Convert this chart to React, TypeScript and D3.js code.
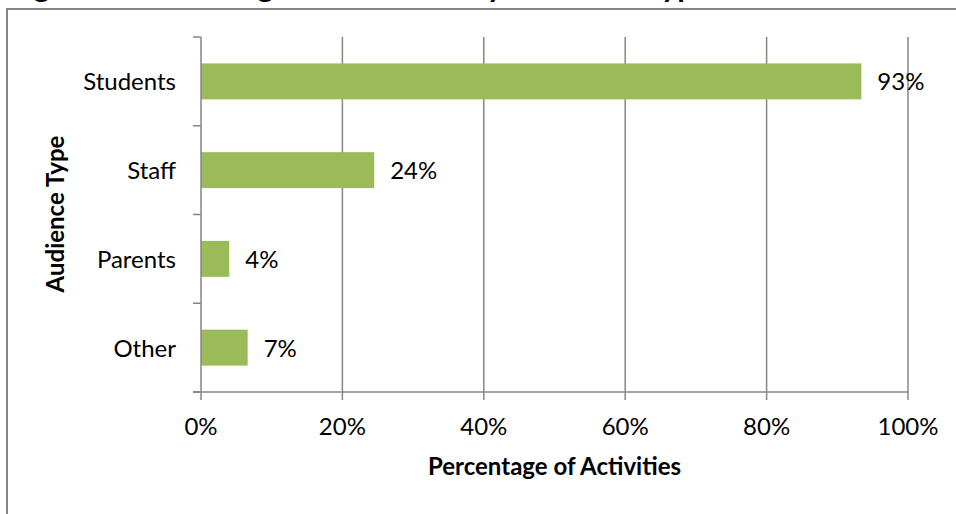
import React from "react";
import * as d3 from "d3";

// audience types, top to bottom
const categories = ["Students", "Staff", "Parents", "Other"];
// share of activities (%)
const values = [93.4, 24.5, 4, 6.6];
const valueLabels = ["93%", "24%", "4%", "7%"];
const xTicks = [0, 20, 40, 60, 80, 100];

const title = "Figure 2. Percentage of Activities by Audience Type";
const xTitle = "Percentage of Activities";
const yTitle = "Audience Type";

const W = 956;
const H = 514;
const FONT = "Lato, 'Open Sans', sans-serif";
const GRID = "#868686";
const BAR = "#9BBB59";

export default function App() {
  const x = d3.scaleLinear().domain([0, 100]).range([201, 908]);
  const y = d3
    .scaleBand()
    .domain(categories)
    .range([37, 392])
    .paddingInner(0.595)
    .paddingOuter(0.2975);
  const step = y.step();
  const bounds = d3.range(categories.length + 1).map(i => 37 + i * step);

  return (
    <svg
      width={W}
      height={H}
      style={{ position: "absolute", left: 0, top: 0, background: "#fff" }}
      fontFamily={FONT}
    >
      <rect x={0} y={0} width={W} height={H} fill="#fff" />
      <text x={8} y={-3} fontSize={31} fontWeight="bold" fill="#000">
        {title}
      </text>
      <rect x={7} y={9} width={W + 20} height={H + 20} fill="none" stroke={GRID} strokeWidth={2} />

      {/* vertical gridlines */}
      {xTicks.slice(1).map(t => (
        <line key={"g" + t} x1={x(t)} x2={x(t)} y1={37} y2={392} stroke={GRID} strokeWidth={1.5} />
      ))}

      {/* bars */}
      {categories.map((c, i) => (
        <rect
          key={c}
          x={x(0)}
          y={y(c)}
          width={x(values[i]) - x(0)}
          height={y.bandwidth()}
          fill={BAR}
        />
      ))}

      {/* axes */}
      <line x1={x(0)} x2={x(0)} y1={37} y2={392} stroke={GRID} strokeWidth={1.5} />
      <line x1={193} x2={x(100)} y1={392} y2={392} stroke={GRID} strokeWidth={1.5} />
      {bounds.map((b, i) => (
        <line key={"yt" + i} x1={193} x2={x(0)} y1={b} y2={b} stroke={GRID} strokeWidth={1.5} />
      ))}
      {xTicks.map(t => (
        <line key={"xt" + t} x1={x(t)} x2={x(t)} y1={392} y2={400} stroke={GRID} strokeWidth={1.5} />
      ))}

      {/* tick labels */}
      {xTicks.map(t => (
        <text key={"xl" + t} x={x(t)} y={435} fontSize={24} textAnchor="middle" fill="#000">
          {t + "%"}
        </text>
      ))}
      {categories.map(c => (
        <text
          key={"yl" + c}
          x={176}
          y={(y(c) as number) + y.bandwidth() / 2 + 9}
          fontSize={24}
          textAnchor="end"
          fill="#000"
        >
          {c}
        </text>
      ))}

      {/* value labels */}
      {categories.map((c, i) => (
        <text
          key={"vl" + c}
          x={x(values[i]) + 16}
          y={(y(c) as number) + y.bandwidth() / 2 + 9}
          fontSize={24}
          fill="#000"
        >
          {valueLabels[i]}
        </text>
      ))}

      {/* axis titles */}
      <text x={(x(0) + x(100)) / 2} y={475} fontSize={24} fontWeight="bold" textAnchor="middle" fill="#000">
        {xTitle}
      </text>
      <text
        transform={`translate(64,214) rotate(-90)`}
        fontSize={24}
        fontWeight="bold"
        textAnchor="middle"
        fill="#000"
      >
        {yTitle}
      </text>
    </svg>
  );
}
